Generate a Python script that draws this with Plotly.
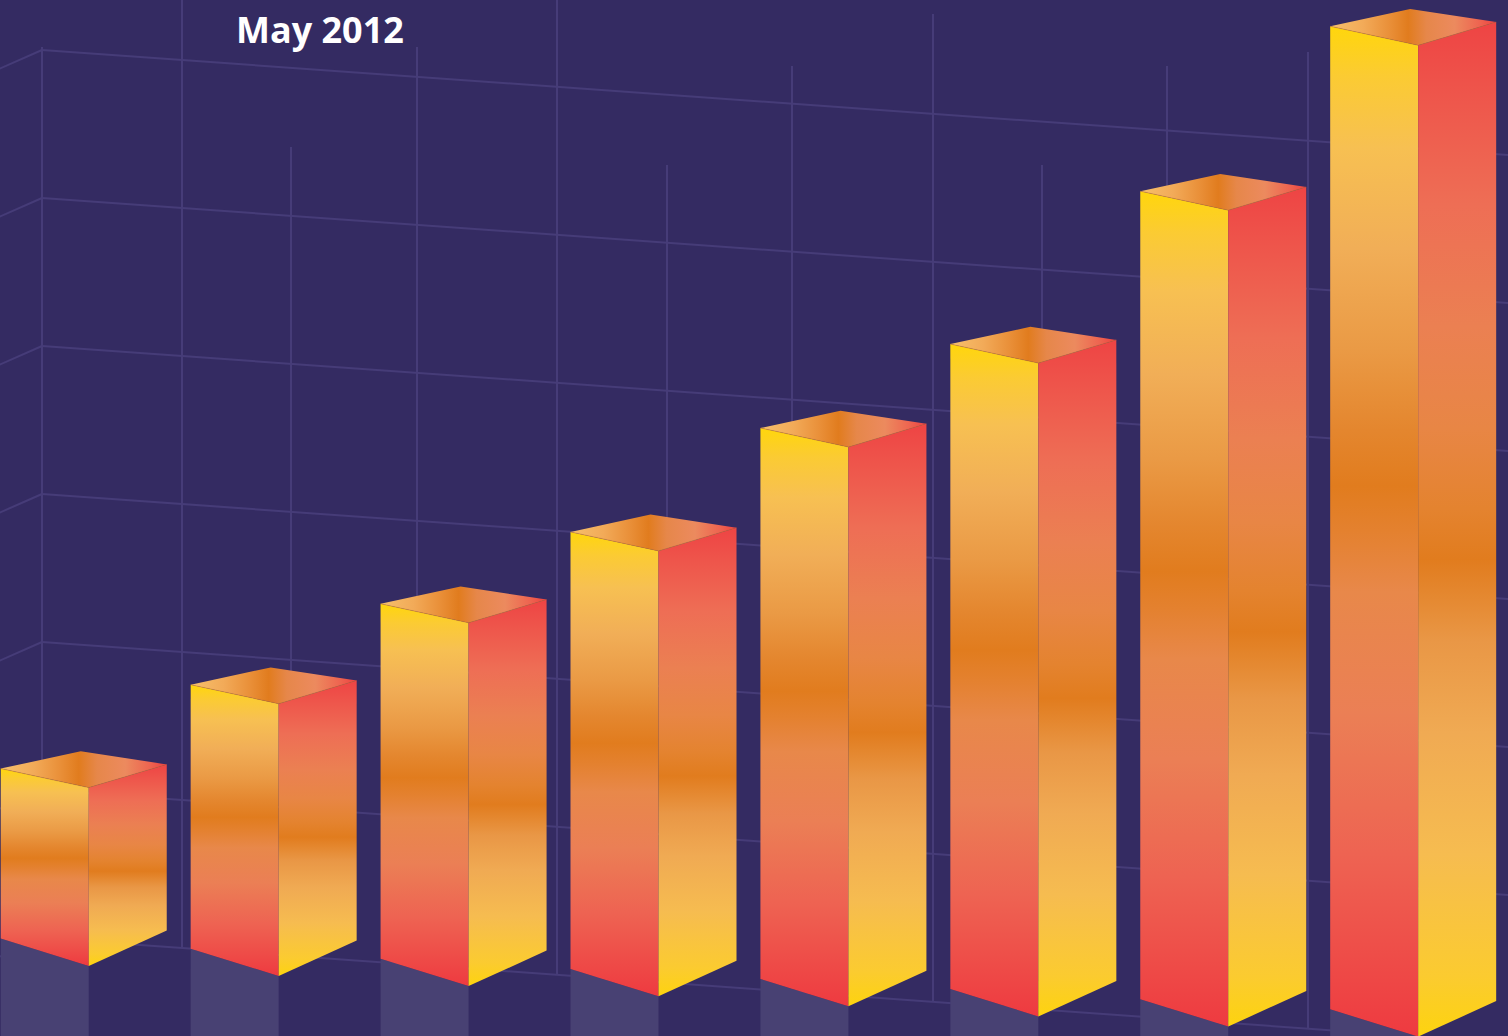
import plotly.graph_objects as go

# ---------------- data ----------------
bar_labels = ["1", "2", "3", "4", "5", "6", "7", "8"]
values = [17.0, 26.4, 35.5, 43.7, 55.1, 64.5, 80.8, 98.3]
title_text = "May 2012"

# ---------------- style / projection constants ----------------
W, H = 1508, 1036
BG = "#342B62"
GRID = "#463C78"
REFL = "#484173"

SLOT_PX = 189.92      # pixels per category slot
UNIT_PX = 10.0        # pixels per value unit
FIRST_X_PX = 0.74     # pixel x of first slot
BASE_Y_PX = 938.6     # pixel y of first baseline

FRONT_W = 88 / SLOT_PX
SIDE_X = 166 / SLOT_PX
BACK_X = 80 / SLOT_PX
BASE_DROP = 10.1 / UNIT_PX          # perspective drop of the floor per slot
FRONT_BOT_DROP = 27.3 / UNIT_PX
FRONT_TOP_DROP = 19.0 / UNIT_PX
SIDE_BOT_RISE = 8.2 / UNIT_PX
SIDE_TOP_RISE = 4.2 / UNIT_PX
BACK_RISE = 17.3 / UNIT_PX

x_range = [(0 - FIRST_X_PX) / SLOT_PX, (W - FIRST_X_PX) / SLOT_PX]
y_range = [(BASE_Y_PX - H) / UNIT_PX, BASE_Y_PX / UNIT_PX]


def px_x(px):
    return (px - FIRST_X_PX) / SLOT_PX


def px_y(py):
    return (BASE_Y_PX - py) / UNIT_PX


front_cs = [[0.00, "#EE3A40"], [0.06, "#EE4846"], [0.18, "#EE6352"], [0.32, "#EB7F55"],
            [0.44, "#E8884A"], [0.50, "#E4812F"], [0.545, "#E17C1E"], [0.60, "#E4862E"],
            [0.68, "#EA9A45"], [0.78, "#F1AE57"], [0.88, "#F7C052"], [0.95, "#FBCB33"],
            [1.00, "#FFD60C"]]
side_cs = [[0.00, "#FDD30F"], [0.06, "#FBCB30"], [0.18, "#F6BC50"], [0.30, "#F0AA53"],
           [0.39, "#E99746"], [0.44, "#E4862D"], [0.47, "#E17C1E"], [0.52, "#E4832F"],
           [0.60, "#E88645"], [0.70, "#EB8052"], [0.82, "#EE6E55"], [0.93, "#EE554B"],
           [1.00, "#EE4444"]]
top_cs = [[0.00, "#F6C06C"], [0.20, "#F2AA58"], [0.36, "#E98F38"], [0.47, "#E17C1E"],
          [0.58, "#E6874A"], [0.75, "#EC8A5E"], [0.90, "#EE6450"], [1.00, "#EE4040"]]

fig = go.Figure()

# ---------------- background grid (decorative 3D wall) ----------------
shapes = []
GRID_TOP_PX, GRID_STEP_PX, GRID_ROWS = 50, 148, 7
WALL_X_PX, WALL_SLOPE, SIDE_SLOPE = 42, 0.0716, 0.44
for k in range(GRID_ROWS):
    y0 = GRID_TOP_PX + k * GRID_STEP_PX
    shapes.append(dict(type="line", xref="x", yref="y", layer="below",
                       x0=px_x(WALL_X_PX), y0=px_y(y0),
                       x1=px_x(W + 10), y1=px_y(y0 + WALL_SLOPE * (W + 10 - WALL_X_PX)),
                       line=dict(color=GRID, width=2)))
    shapes.append(dict(type="line", xref="x", yref="y", layer="below",
                       x0=px_x(WALL_X_PX), y0=px_y(y0),
                       x1=px_x(-10), y1=px_y(y0 + SIDE_SLOPE * (WALL_X_PX + 10)),
                       line=dict(color=GRID, width=2)))
bottom_row_px = GRID_TOP_PX + (GRID_ROWS - 1) * GRID_STEP_PX
vertical_lines = [(42, 47), (182, -10), (291, 147), (417, 47), (557, -10), (667, 165),
                  (792, 66), (933, 14), (1042, 165), (1167, 66), (1308, 52)]
for vx, vy in vertical_lines:
    yend = bottom_row_px + WALL_SLOPE * (vx - WALL_X_PX)
    shapes.append(dict(type="line", xref="x", yref="y", layer="below",
                       x0=px_x(vx), y0=px_y(vy), x1=px_x(vx), y1=px_y(yend),
                       line=dict(color=GRID, width=2)))

# ---------------- bars ----------------
ybelow = y_range[0] - 5
for i, v in enumerate(values):
    xl = i
    xf = i + FRONT_W
    xs = i + SIDE_X
    xb = i + BACK_X
    b = -BASE_DROP * i
    t = b + v
    # reflection block under the front face
    fig.add_trace(go.Scatter(x=[xl, xf, xf, xl], y=[b, b - FRONT_BOT_DROP, ybelow, ybelow],
                             mode="lines", fill="toself", fillcolor=REFL,
                             line=dict(width=0), hoverinfo="skip", showlegend=False))
    # front face
    fig.add_trace(go.Scatter(x=[xl, xf, xf, xl], y=[b, b - FRONT_BOT_DROP, t - FRONT_TOP_DROP, t],
                             mode="lines", fill="toself",
                             fillgradient=dict(type="vertical", colorscale=front_cs),
                             line=dict(width=0), name=bar_labels[i], hoverinfo="skip",
                             showlegend=False))
    # side face
    fig.add_trace(go.Scatter(x=[xf, xs, xs, xf],
                             y=[b - FRONT_BOT_DROP, b + SIDE_BOT_RISE, t + SIDE_TOP_RISE, t - FRONT_TOP_DROP],
                             mode="lines", fill="toself",
                             fillgradient=dict(type="vertical", colorscale=side_cs),
                             line=dict(width=0), hoverinfo="skip", showlegend=False))
    # top face
    fig.add_trace(go.Scatter(x=[xl, xb, xs, xf],
                             y=[t, t + BACK_RISE, t + SIDE_TOP_RISE, t - FRONT_TOP_DROP],
                             mode="lines", fill="toself",
                             fillgradient=dict(type="horizontal", colorscale=top_cs),
                             line=dict(width=0), hoverinfo="skip", showlegend=False))
    # thin edge between front and top faces
    fig.add_trace(go.Scatter(x=[xl, xf, xs], y=[t, t - FRONT_TOP_DROP, t + SIDE_TOP_RISE],
                             mode="lines", line=dict(color="rgba(190,110,50,0.55)", width=0.8),
                             hoverinfo="skip", showlegend=False))

fig.update_layout(
    width=W, height=H,
    margin=dict(l=0, r=0, t=0, b=0),
    paper_bgcolor=BG, plot_bgcolor=BG,
    shapes=shapes,
    xaxis=dict(range=x_range, visible=False, fixedrange=True),
    yaxis=dict(range=y_range, visible=False, fixedrange=True),
    annotations=[dict(text=title_text, xref="paper", yref="paper",
                      x=320 / W, y=1 - 29 / H, xanchor="center", yanchor="middle",
                      showarrow=False,
                      font=dict(family="Open Sans", size=36, color="white", weight="bold"))],
    showlegend=False,
)

fig.write_html("out.html", config={"displayModeBar": False, "staticPlot": True},
               post_script="document.body.style.margin='0';document.body.style.overflow='hidden';")
